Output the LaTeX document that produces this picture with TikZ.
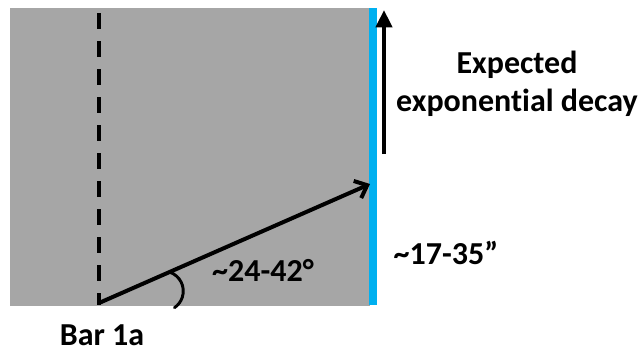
\documentclass[tikz,border=0pt]{standalone}
\usepackage{fontspec}
\setmainfont{Carlito}[Ligatures=NoCommon]
\usepackage{tikz}
\usetikzlibrary{positioning,arrows.meta,calc}
\definecolor{bargray}{HTML}{A6A6A6}
\definecolor{edgeblue}{HTML}{00B0F0}

\begin{document}
\begin{tikzpicture}[
    x=0.75pt, y=-0.75pt,
    lbl/.style={font=\fontsize{24}{28.5}\selectfont\bfseries, inner sep=0pt, align=center},
    axis/.style={line width=2.5pt, dash pattern=on 12pt off 9pt},
    ray/.style={line width=3pt, line cap=round, -{Straight Barb[length=8pt, width=14pt, line width=3pt]}},
    decay/.style={line width=3pt, -{Triangle[length=13pt, width=12pt]}},
    angarc/.style={line width=2.2pt, line cap=round}
  ]
  \useasboundingbox (0,0) rectangle (639,354);

  % ----- Bar and its edge -----
  \fill[bargray] (10,8) rectangle (370,306);
  \coordinate (edgetop) at (373,8);
  \coordinate (edgebot) at (373,305);
  \draw[edgeblue, line width=6pt] (edgetop) -- (edgebot);

  % ----- Axis and ray -----
  \coordinate (origin) at (99,303);
  \coordinate (axistop) at (99,13);
  \coordinate (hit) at (370,184);
  \draw[axis] (axistop) -- (99,305);
  \draw[ray] (origin) -- (hit);
  \coordinate (arcstart) at ($(origin)!0.26!(hit)$);
  \draw[angarc] (arcstart) arc[start angle=-72, end angle=56, radius=20];

  % ----- Decay arrow -----
  \coordinate (decaybot) at (384,154);
  \coordinate (decaytop) at (384,10);
  \draw[decay] (decaybot) -- (decaytop);

  % ----- Labels -----
  \node[lbl] (expected) at (517,84) {Expected\\exponential decay};
  \node[lbl] (angle)    at (263,270) {\textasciitilde24-42°};
  \node[lbl] (span)     at (446,253) {\textasciitilde17-35”};
  \node[lbl] (bar)      at (102,335) {Bar 1a};
\end{tikzpicture}
\end{document}
